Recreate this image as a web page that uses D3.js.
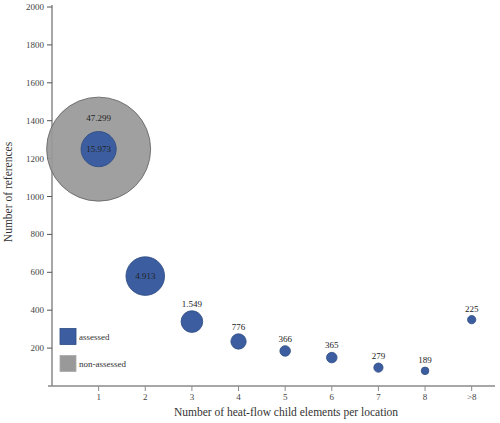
<!DOCTYPE html>
<html><head><meta charset="utf-8">
<script src="https://cdn.jsdelivr.net/npm/d3@7"></script>
<style>body{margin:0;background:#fff}svg{display:block}text{font-family:"Liberation Serif","Times New Roman",serif}</style>
</head><body>
<script>
const categories = ["1","2","3","4","5","6","7","8",">8"];
const assessedRefs = [1250, 580, 340, 235, 185, 150, 97, 80, 350];
const assessedCounts = [15973, 4913, 1549, 776, 366, 365, 279, 189, 225];
const assessedLabels = ["15.973","4.913","1.549","776","366","365","279","189","225"];
const nonAssessedRefs = [1250];
const nonAssessedCounts = [47299];
const nonAssessedLabels = ["47.299"];
const yTicks = [200,400,600,800,1000,1200,1400,1600,1800,2000];

const W = 500, H = 423;
const svg = d3.select("body").append("svg").attr("width", W).attr("height", H);
const x = d3.scaleLinear().domain([0, 9.5]).range([52, 495]);
const y = d3.scaleLinear().domain([0, 2000]).range([386, 7]);
const r = d3.scaleSqrt().domain([0, 4913, 15973, 47299]).range([0, 19.3, 17.6, 52]);

const BLUE = "#3c5ea0", BLUE_S = "#2c4a82", GRAY = "#999999", GRAY_S = "#606060", AX = "#8a8a8a";

// axes
const gx = svg.append("g").attr("transform", "translate(0,386)");
gx.append("line").attr("x1", 48).attr("x2", 495).attr("stroke", AX).attr("stroke-width", 1.5);
categories.forEach((c, i) => {
  const px = x(i + 1);
  gx.append("line").attr("x1", px).attr("x2", px).attr("y1", 0).attr("y2", 5).attr("stroke", AX).attr("stroke-width", 1);
  gx.append("text").attr("x", px).attr("y", 14).attr("text-anchor", "middle").attr("font-size", 9).attr("fill", "#444").text(c);
});
const gy = svg.append("g").attr("transform", "translate(52,0)");
gy.append("line").attr("y1", 386).attr("y2", 5).attr("stroke", AX).attr("stroke-width", 1.5);
yTicks.forEach(t => {
  gy.append("line").attr("x1", -5).attr("x2", 0).attr("y1", y(t)).attr("y2", y(t)).attr("stroke", "#555").attr("stroke-width", 1);
  gy.append("text").attr("x", -8).attr("y", y(t) + 3).attr("text-anchor", "end").attr("font-size", 9).attr("fill", "#444").text(t);
});

// axis titles
svg.append("text").attr("transform", "translate(12,192) rotate(-90)").attr("text-anchor", "middle")
  .attr("font-size", 11.5).attr("fill", "#333").text("Number of references");
svg.append("text").attr("x", 286).attr("y", 416).attr("text-anchor", "middle")
  .attr("font-size", 11.5).attr("fill", "#333").text("Number of heat-flow child elements per location");

// non-assessed bubbles
nonAssessedRefs.forEach((v, i) => {
  svg.append("circle").attr("cx", x(i + 1)).attr("cy", y(v)).attr("r", r(nonAssessedCounts[i]))
    .attr("fill", GRAY).attr("fill-opacity", 0.93).attr("stroke", GRAY_S).attr("stroke-width", 0.8);
});
// assessed bubbles
assessedRefs.forEach((v, i) => {
  svg.append("circle").attr("cx", x(i + 1)).attr("cy", y(v)).attr("r", r(assessedCounts[i]))
    .attr("fill", BLUE).attr("stroke", BLUE_S).attr("stroke-width", 0.8);
});
// labels
nonAssessedRefs.forEach((v, i) => {
  svg.append("text").attr("x", x(i + 1)).attr("y", y(v) - r(nonAssessedCounts[i]) * 0.6 + 3)
    .attr("text-anchor", "middle").attr("font-size", 9).attr("fill", "#222").text(nonAssessedLabels[i]);
});
assessedRefs.forEach((v, i) => {
  const rr = r(assessedCounts[i]);
  const inside = rr > 15;
  svg.append("text").attr("x", x(i + 1)).attr("y", inside ? y(v) + 3 : y(v) - rr - 4)
    .attr("text-anchor", "middle").attr("font-size", 9).attr("fill", "#222").text(assessedLabels[i]);
});

// legend
const lg = svg.append("g");
[["assessed", BLUE, BLUE_S], ["non-assessed", GRAY, "#aaa"]].forEach((d, i) => {
  lg.append("rect").attr("x", 60).attr("y", 328.5 + i * 27).attr("width", 16).attr("height", 16)
    .attr("fill", d[1]).attr("stroke", d[2]).attr("stroke-width", 0.8);
  lg.append("text").attr("x", 79).attr("y", 339.5 + i * 27).attr("font-size", 9).attr("fill", "#333").text(d[0]);
});
</script>
</body></html>
